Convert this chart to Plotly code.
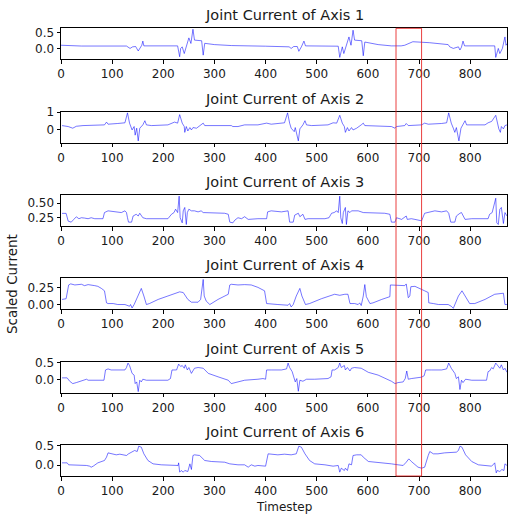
import plotly.graph_objects as go

# ---------------- data ----------------
x1 = [0,20,40,128,130,135,140,146,151,155,158,160,162,228,232,234,237,241,245,250,254,258,261,275,278,281,300,333,400,444,446,450,455,462,465,470,475,478,542,545,550,553,558,563,567,571,574,588,591,594,620,646,665,672,688,720,757,760,767,777,780,783,786,789,848,850,855,858,863,868,870,872]
y1 = [0.10,0.09,0.075,0.075,0.05,0.0,0.05,0.06,-0.08,0.05,0.10,0.23,0.08,0.08,-0.26,0.0,0.05,-0.16,0.05,0.33,0.155,0.60,0.26,0.24,-0.21,0.16,0.12,0.09,0.07,0.07,0.05,0.0,0.06,0.06,-0.09,0.05,0.23,0.08,0.07,-0.28,0.05,-0.16,0.08,0.36,0.10,0.57,0.26,0.24,-0.23,0.2,0.12,0.08,0.08,0.1,0.21,0.18,0.12,0.05,0.0,0.05,-0.05,0.04,0.23,0.08,0.08,-0.28,0.0,-0.16,0.0,0.36,0.1,0.15]

x2 = [2,14,23,30,43,59,66,85,89,92, 111,125,130,134,139,143,145,148,151,154, 160,164,167,177,209,216,222,228,232,237, 241,242,245,248,252,255,258,265,274,278, 281,333,336,346,359,385,402,411,437,443, 447,450,456,458,464,467,473,477,480,490, 522,532,539,545,550,554,556,560,563,568, 571,578,587,591,594,646,653,656,672,675, 679,705,711,718,744,754,758,763,767,770, 773,778,782,786,790,793,829,835,842,850, 853,856,859,861,865,868,872]
y2 = [0.23,0.175,0.08,0.19,0.23,0.23,0.27,0.27,0.43,0.31, 0.35,0.39,0.96,0.37,-0.02,0.175,-0.32,0.08,-0.65,0.08, 0.27,0.51,0.27,0.23,0.27,0.37,0.43,0.37,0.86,0.37, 0.175,-0.16,0.175,-0.08,0.115,-0.02,0.115,0.08,0.31,0.37, 0.23,0.23,0.175,0.175,0.27,0.27,0.37,0.31,0.39,0.96, 0.37,0.08,-0.12,0.115,-0.65,0.04,0.27,0.51,0.27,0.23, 0.27,0.39,0.37,0.82,0.37,0.175,-0.16,0.115,-0.08,0.115, -0.02,0.08,0.27,0.37,0.23,0.175,0.08,0.175,0.23,0.35, 0.23,0.27,0.37,0.31,0.35,0.39,0.96,0.37,0.08,-0.16, 0.115,-0.65,0.08,0.31,0.51,0.27,0.27,0.39,0.47,0.82, 0.37,0.04,-0.16,0.175,0.04,0.23,0.27]

x3 = [2,10,14,20,25,30,35,40,46,53, 59,66,82,85,92,105,118,125,128,130, 132,138,141,147,151,154,160,167,209,216, 221,224,228,231,233,237,239,242,245,247, 250,255,261,268,274,278,288,320,327,330, 336,340,346,353,359,366,385,402,404,411, 431,444,447,454,457,464,467,473,477,483, 516,524,529,534,539,542,545,547,550,552, 556,558,561,565,568,581,591,633,643,646, 653,656,666,675,677,685,692,702,705,711, 718,731,744,754,758,762,770,773,780,783, 790,803,835,838,843,847,850,852,855,858, 861,865,868,872]
y3 = [0.32,0.32,0.185,0.167,0.215,0.26,0.227,0.244,0.238,0.227, 0.244,0.227,0.227,0.334,0.364,0.346,0.334,0.364,0.334,0.244, 0.167,0.167,0.274,0.304,0.274,0.322,0.244,0.227,0.227,0.304, 0.334,0.393,0.334,0.62,0.244,0.155,0.364,0.423,0.126,0.334, 0.393,0.364,0.364,0.346,0.364,0.334,0.334,0.322,0.304,0.167, 0.155,0.203,0.244,0.227,0.262,0.215,0.227,0.227,0.346,0.364, 0.346,0.364,0.167,0.167,0.29,0.322,0.262,0.304,0.215,0.227, 0.227,0.244,0.322,0.334,0.364,0.334,0.62,0.244,0.143,0.334, 0.423,0.126,0.364,0.334,0.364,0.364,0.334,0.322,0.304,0.167, 0.167,0.244,0.215,0.274,0.215,0.227,0.215,0.203,0.19,0.322, 0.334,0.364,0.346,0.364,0.322,0.167,0.167,0.274,0.322,0.334, 0.215,0.227,0.227,0.304,0.334,0.453,0.584,0.155,0.126,0.393, 0.423,0.143,0.334,0.274]

x4 = [2,10,15,19,27,40,46,53,66,72, 79,85,89,92,102,111,125,134,136,139, 143,151,157,162,167,173,190,209,232,239, 248,255,268,273,278,280,284,291,307,327, 330,333,346,359,372,385,398,402,411,424, 444,447,450,454,460,467,471,478,486,509, 535,545,555,561,565,574,581,584,587,591, 594,597,604,610,627,640,643,644,649,659, 666,672,675,677,679,682,684,692,702,711, 718,719,728,738,757,763,767,770,777,784, 790,799,809,829,848,865,868,872]
y4 = [0.074,0.084,0.284,0.30,0.284,0.294,0.274,0.289,0.274,0.264, 0.234,0.199,0.024,0.014,0.014,0.0,0.0,-0.025,0.0,-0.05, 0.0,0.149,0.234,0.124,0.0,0.014,0.074,0.124,0.184,0.174, 0.074,0.034,0.034,0.074,0.364,0.124,0.049,0.0,0.074,0.149, 0.284,0.294,0.284,0.289,0.284,0.249,0.199,0.014,0.004,0.0, -0.01,0.014,-0.035,0.0,0.124,0.234,0.124,0.0,0.014,0.084, 0.149,0.134,0.149,0.149,0.014,0.014,0.0,0.024,-0.015,0.124, 0.29,0.114,0.014,0.024,0.074,0.099,0.114,0.284,0.284,0.284, 0.284,0.274,0.299,0.149,0.099,0.124,0.259,0.264,0.234,0.199, 0.174,0.024,0.014,0.0,0.0,-0.025,-0.055,0.0,0.124,0.199, 0.124,0.014,0.014,0.074,0.149,0.164,0.0,0.0]

x5 = [2,12,17,23,30,40,46,50,53,79, 84,87,92,98,125,128,131,134,139,143, 145,148,151,154,157,160,167,209,214,217, 226,230,234,237,241,243,247,250,255,261, 268,278,288,307,327,333,340,359,385,395, 400,402,411,431,441,444,447,452,458,461, 464,467,473,480,496,522,528,530,535,542, 545,548,554,556,560,565,568,574,587,601, 620,640,646,653,659,669,673,676,679,685, 698,705,710,713,724,744,754,758,763,770, 773,777,780,783,786,791,803,832,835,838, 842,845,850,853,858,861,865,868,872]
y5 = [0.05,0.05,-0.05,-0.12,-0.09,-0.05,-0.02,0.01,-0.02,-0.02, -0.02,0.285,0.316,0.285,0.285,0.357,0.49,0.418,0.183,0.133, -0.12,-0.07,-0.357,-0.02,-0.07,0.01,-0.02,-0.02,0.03,0.285, 0.285,0.459,0.387,0.418,0.336,0.438,0.285,0.357,0.183,0.336, 0.357,0.336,0.183,0.082,-0.02,-0.12,-0.09,-0.02,0.01,0.03, 0.01,0.285,0.285,0.285,0.316,0.49,0.357,0.234,-0.07,0.03, -0.347,-0.02,-0.05,0.01,0.01,0.03,0.082,0.285,0.285,0.357, 0.49,0.357,0.418,0.285,0.357,0.254,0.336,0.357,0.336,0.214, 0.133,0.01,-0.05,-0.12,-0.09,-0.07,0.03,0.254,0.01,0.03, 0.05,0.071,0.112,0.285,0.285,0.285,0.316,0.49,0.336,0.183, 0.03,0.082,-0.296,-0.02,-0.09,0.01,-0.02,-0.02,0.234,0.254, 0.357,0.316,0.49,0.418,0.336,0.438,0.285,0.336,0.214]

x6 = [2,12,15,27,40,50,56,59,63,72, 85,89,92,98,108,115,121,128,132,139, 144,149,152,157,162,170,180,196,222,229, 230,232,235,239,242,248,252,255,258,261, 271,274,281,294,320,330,346,359,366,372, 379,385,400,405,411,424,437,450,460,465, 470,477,486,496,516,532,542,545,548,554, 556,560,563,568,571,578,587,591,601,620, 646,659,669,675,680,685,692,698,705,711, 718,721,728,737,750,763,773,777,780,784, 791,803,816,842,848,851,853,858,862,866, 868,872]
y6 = [0.06,0.06,0.009,0.009,-0.008,-0.008,-0.026,-0.052,-0.026,0.06, 0.121,0.207,0.318,0.293,0.267,0.284,0.267,0.25,0.293,0.336, 0.379,0.353,0.491,0.465,0.293,0.121,0.034,0.009,-0.008,-0.008, 0.06,-0.181,-0.138,-0.181,-0.138,-0.164,0.034,-0.112,0.25,0.267, 0.25,0.207,0.121,0.095,0.077,0.034,0.009,0.009,-0.052,0.009, -0.026,-0.008,-0.026,0.293,0.284,0.267,0.284,0.267,0.293,0.491, 0.465,0.293,0.121,0.034,0.009,-0.026,-0.008,-0.181,-0.078,-0.138, -0.078,-0.138,0.034,0.009,0.25,0.267,0.267,0.207,0.095,0.077, 0.034,0.009,-0.008,0.077,0.163,0.095,0.009,-0.052,-0.078,-0.052, 0.25,0.353,0.293,0.293,0.318,0.318,0.336,0.379,0.491,0.465, 0.267,0.095,0.009,-0.026,0.06,-0.198,-0.138,-0.164,-0.112,-0.138, 0.034,-0.008]

titles = ["Joint Current of Axis 1", "Joint Current of Axis 2", "Joint Current of Axis 3",
          "Joint Current of Axis 4", "Joint Current of Axis 5", "Joint Current of Axis 6"]
y_ranges = [[-0.34, 0.63], [-0.75, 1.03], [0.10, 0.64], [-0.07, 0.38], [-0.39, 0.53], [-0.28, 0.52]]
y_tickvals = [[0.0, 0.5], [0, 1], [0.25, 0.50], [0.00, 0.25], [0.0, 0.5], [0.0, 0.5]]
y_ticktext = [["0.0", "0.5"], ["0", "1"], ["0.25", "0.50"], ["0.00", "0.25"], ["0.0", "0.5"], ["0.0", "0.5"]]
x_tickvals = [0, 100, 200, 300, 400, 500, 600, 700, 800]
x_range = [0, 872]
highlight_window = [655, 705]
x_label = "Timestep"
y_label = "Scaled Current"

series = [(x1, y1), (x2, y2), (x3, y3), (x4, y4), (x5, y5), (x6, y6)]
for xs, ys in series:
    assert len(xs) == len(ys)

# ---------------- layout geometry ----------------
W, H = 508, 514
ML, MR, MT, MB = 61, 1, 28, 38
PH = H - MT - MB
AX_TOP0 = 28.3
AX_STEP = 83.35
AX_H = 31.0


def paper_y(px):
    return (H - MB - px) / PH


def clamp(v):
    return min(1.0, max(0.0, v))


FONT = "DejaVu Sans"
TXT = "#1a1a1a"

fig = go.Figure()
layout = dict(
    width=W, height=H,
    margin=dict(l=ML, r=MR, t=MT, b=MB, pad=0),
    paper_bgcolor="white", plot_bgcolor="white",
    showlegend=False,
    font=dict(family=FONT, size=12, color=TXT),
    annotations=[], shapes=[],
)

for i, (xs, ys) in enumerate(series):
    n = i + 1
    sfx = "" if n == 1 else str(n)
    fig.add_trace(go.Scatter(x=xs, y=ys, mode="lines",
                             line=dict(color="rgba(0,0,255,0.6)", width=0.9),
                             xaxis="x" + sfx, yaxis="y" + sfx, hoverinfo="skip"))
    top = AX_TOP0 + AX_STEP * i
    bot = top + AX_H
    common = dict(showline=True, mirror=True, linecolor="black", linewidth=1,
                  ticks="outside", ticklen=3.5, tickwidth=1, tickcolor="black",
                  showgrid=False, zeroline=False,
                  tickfont=dict(family=FONT, size=12, color=TXT))
    layout["xaxis" + sfx] = dict(domain=[0, 1], anchor="y" + sfx, range=x_range,
                                 tickmode="array", tickvals=x_tickvals, **common)
    layout["yaxis" + sfx] = dict(domain=[clamp(paper_y(bot)), clamp(paper_y(top))], anchor="x" + sfx,
                                 range=y_ranges[i], tickmode="array",
                                 tickvals=y_tickvals[i], ticktext=y_ticktext[i], **common)
    layout["annotations"].append(dict(
        text=titles[i], xref="paper", yref="paper", x=0.5, y=paper_y(top - 13),
        xanchor="center", yanchor="middle", showarrow=False,
        font=dict(family=FONT, size=14.5, color=TXT)))

layout["annotations"].append(dict(
    text=x_label, xref="paper", yref="paper", x=0.5, y=paper_y(506.5),
    xanchor="center", yanchor="middle", showarrow=False,
    font=dict(family=FONT, size=12, color=TXT)))
layout["annotations"].append(dict(
    text=y_label, xref="paper", yref="paper", x=(12 - ML) / (W - ML - MR), y=paper_y(284),
    xanchor="center", yanchor="middle", textangle=-90, showarrow=False,
    font=dict(family=FONT, size=13.5, color=TXT)))

layout["shapes"].append(dict(
    type="rect", xref="x", yref="paper",
    x0=highlight_window[0], x1=highlight_window[1],
    y0=clamp(paper_y(AX_TOP0 + AX_STEP * 5 + AX_H)), y1=clamp(paper_y(AX_TOP0)),
    line=dict(color="rgba(230,30,30,0.85)", width=1), layer="above"))

fig.update_layout(**layout)
fig.write_html("out.html")
